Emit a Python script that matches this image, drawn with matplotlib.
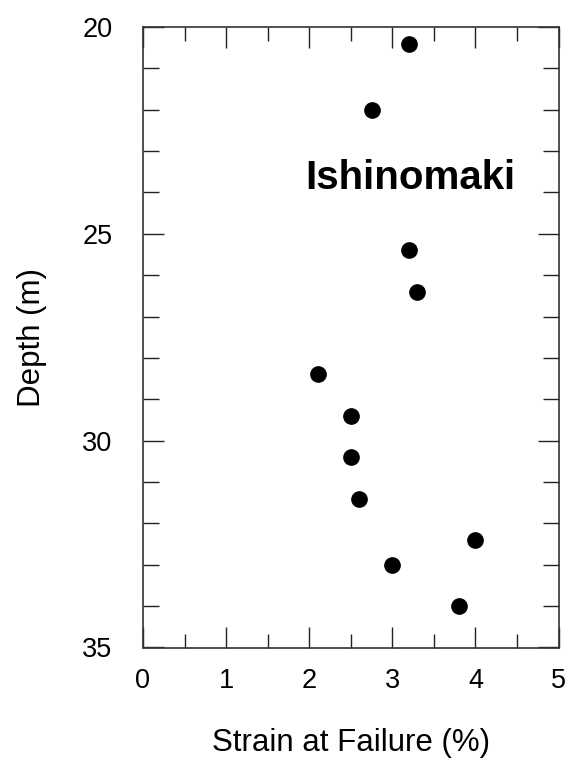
import numpy as np
import matplotlib.pyplot as plt
from matplotlib.ticker import MultipleLocator

# strain at failure (%) vs depth (m), Ishinomaki site
strain = [3.2, 2.75, 3.2, 3.3, 2.1, 2.5, 2.5, 2.6, 3.0, 4.0, 3.8]
depth = [20.4, 22.0, 25.4, 26.4, 28.4, 29.4, 30.4, 31.4, 33.0, 32.4, 34.0]

plt.rcParams['font.family'] = ['Liberation Sans', 'DejaVu Sans']

fig = plt.figure(figsize=(5.65, 7.58), dpi=100)
ax = fig.add_axes([143/565, 1-647.5/758, (558.5-143)/565, (647.5-27)/758])

ax.plot(strain, depth, 'o', color='black', markersize=11, clip_on=False)

ax.set_xlim(0, 5)
ax.set_ylim(35, 20)
ax.xaxis.set_major_locator(MultipleLocator(1))
ax.xaxis.set_minor_locator(MultipleLocator(0.5))
ax.yaxis.set_major_locator(MultipleLocator(5))
ax.yaxis.set_minor_locator(MultipleLocator(1))

ax.tick_params(which='both', direction='in', top=True, right=True,
               width=1, color='#222222')
ax.tick_params(which='major', length=15, labelsize=19.5)
ax.tick_params(which='minor', length=10)
ax.tick_params(axis='x', which='major', pad=15)
ax.tick_params(axis='y', which='major', pad=22)
ax.tick_params(axis='y', which='minor', length=11.5)

for s in ax.spines.values():
    s.set_linewidth(1.2)
    s.set_color('#333333')

ax.set_xlabel('Strain at Failure (%)', fontsize=22.5, labelpad=24)
ax.set_ylabel('Depth (m)', fontsize=22.5, labelpad=25)

ax.text(1.95, 23.65, 'Ishinomaki', fontsize=29, fontweight='bold',
        ha='left', va='center')

fig.savefig('out.png', dpi=100)
